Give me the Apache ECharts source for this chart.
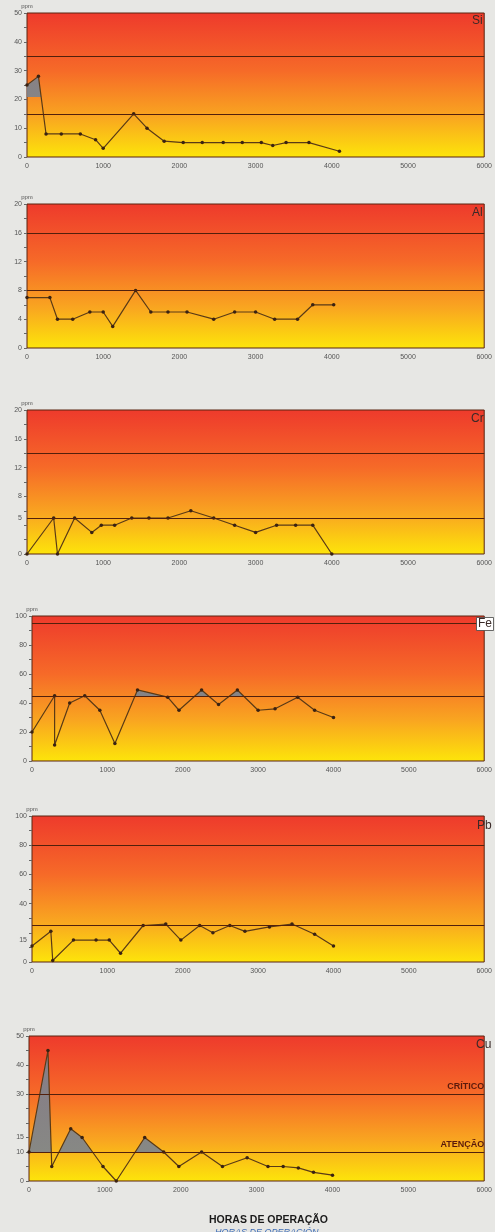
<!DOCTYPE html>
<html>
<head>
<meta charset="utf-8">
<script src="https://cdn.jsdelivr.net/npm/echarts@6/dist/echarts.min.js"></script>
<style>
  html, body { margin: 0; padding: 0; background: #e7e7e4; }
  #chart { width: 495px; height: 1232px; }
</style>
</head>
<body>
<div id="chart"></div>
<script>
// Si
var siHours  = [0, 150, 250, 450, 700, 900, 1000, 1400, 1575, 1800, 2050, 2300, 2575, 2825, 3075, 3225, 3400, 3700, 4100];
var siPpm    = [25, 28, 8, 8, 8, 6, 3, 15, 10, 5.5, 5, 5, 5, 5, 5, 4, 5, 5, 2];
var siTicks  = [0, 10, 20, 30, 40, 50];
var siLimits = [35, 15];

// Al
var alHours  = [0, 300, 400, 600, 825, 1000, 1125, 1425, 1625, 1850, 2100, 2450, 2725, 3000, 3250, 3550, 3750, 4025];
var alPpm    = [7, 7, 4, 4, 5, 5, 3, 8, 5, 5, 5, 4, 5, 5, 4, 4, 6, 6];
var alTicks  = [0, 4, 8, 12, 16, 20];
var alLimits = [16, 8];

// Cr
var crHours  = [0, 350, 400, 625, 850, 975, 1150, 1375, 1600, 1850, 2150, 2450, 2725, 3000, 3275, 3525, 3750, 4000];
var crPpm    = [0, 5, 0, 5, 3, 4, 4, 5, 5, 5, 6, 5, 4, 3, 4, 4, 4, 0];
var crTicks  = [0, 5, 8, 12, 16, 20];
var crLimits = [14, 5];

// Fe
var feHours  = [0, 300, 300, 500, 700, 900, 1100, 1400, 1800, 1950, 2250, 2475, 2725, 3000, 3225, 3525, 3750, 4000];
var fePpm    = [20, 45, 11, 40, 45, 35, 12, 49, 44, 35, 49, 39, 49, 35, 36, 44, 35, 30];
var feTicks  = [0, 20, 40, 60, 80, 100];
var feLimits = [95, 45];

// Pb
var pbHours  = [0, 250, 275, 550, 850, 1025, 1175, 1475, 1775, 1975, 2225, 2400, 2625, 2825, 3150, 3450, 3750, 4000];
var pbPpm    = [11, 21, 1, 15, 15, 15, 6, 25, 26, 15, 25, 20, 25, 21, 24, 26, 19, 11];
var pbTicks  = [0, 15, 40, 60, 80, 100];
var pbLimits = [80, 25];

// Cu
var cuHours  = [0, 250, 300, 550, 700, 975, 1150, 1525, 1775, 1975, 2275, 2550, 2875, 3150, 3350, 3550, 3750, 4000];
var cuPpm    = [10, 45, 5, 18, 15, 5, 0, 15, 10, 5, 10, 5, 8, 5, 5, 4.5, 3, 2];
var cuTicks  = [0, 10, 15, 30, 40, 50];
var cuLimits = [30, 10];
var cuLimitNames = ['CRÍTICO', 'ATENÇÃO'];

var xTitle = 'HORAS DE OPERAÇÃO';
var xTitleEs = 'HORAS DE OPERACIÓN';

var panels = [
  { name: 'Si', hours: siHours, ppm: siPpm, ticks: siTicks, limits: siLimits, max: 50, step: 5, fillFrom: 21,
    grid: { left: 27, top: 13, width: 463, height: 144 }, label: { left: 472, top: 15 } },
  { name: 'Al', hours: alHours, ppm: alPpm, ticks: alTicks, limits: alLimits, max: 20, step: 2,
    grid: { left: 27, top: 204, width: 463, height: 144 }, label: { left: 472, top: 207 } },
  { name: 'Cr', hours: crHours, ppm: crPpm, ticks: crTicks, limits: crLimits, max: 20, step: 2,
    grid: { left: 27, top: 410, width: 463, height: 144 }, label: { left: 471, top: 413 } },
  { name: 'Fe', hours: feHours, ppm: fePpm, ticks: feTicks, limits: feLimits, max: 100, step: 10, fillFrom: 45,
    grid: { left: 32, top: 616, width: 463, height: 145 }, label: { left: 476, top: 617 }, boxed: true },
  { name: 'Pb', hours: pbHours, ppm: pbPpm, ticks: pbTicks, limits: pbLimits, max: 100, step: 10,
    grid: { left: 32, top: 816, width: 463, height: 146 }, label: { left: 477, top: 820 } },
  { name: 'Cu', hours: cuHours, ppm: cuPpm, ticks: cuTicks, limits: cuLimits, max: 50, step: 5, fillFrom: 10,
    grid: { left: 29, top: 1036, width: 462, height: 145 }, label: { left: 476, top: 1039 }, limitNames: cuLimitNames }
];

// fundo vermelho -> amarelo dos graficos
function plotBg() {
  return new echarts.graphic.LinearGradient(0, 0, 0, 1, [
    { offset: 0, color: '#ee3a2c' },
    { offset: 0.4, color: '#f66a28' },
    { offset: 0.72, color: '#f9a620' },
    { offset: 1, color: '#fde50a' }
  ]);
}

var option = {
  backgroundColor: '#e7e7e4',
  animation: false,
  textStyle: { fontFamily: 'Liberation Sans' },
  grid: [], xAxis: [], yAxis: [], series: [], visualMap: [], title: []
};

panels.forEach(function (p, i) {
  option.grid.push(Object.assign({
    show: true, backgroundColor: plotBg(), borderColor: '#5a2410', borderWidth: 1
  }, p.grid));

  option.xAxis.push({
    type: 'value', gridIndex: i, min: 0, max: 6000, interval: 1000,
    axisLine: { show: false }, axisTick: { show: false }, splitLine: { show: false },
    axisLabel: {
      fontSize: 7, color: '#555', margin: 6, showMaxLabel: true,
      formatter: function (v) { return String(v); }
    }
  });

  option.yAxis.push({
    type: 'value', gridIndex: i, min: 0, max: p.max, interval: p.step,
    name: 'ppm', nameLocation: 'end', nameGap: 4,
    nameTextStyle: { fontSize: 6, color: '#555', align: 'center' },
    axisLine: { show: false }, splitLine: { show: false },
    axisTick: { show: true, length: 3, lineStyle: { color: '#666' } },
    axisLabel: { customValues: p.ticks, fontSize: 7, color: '#555', margin: 5 }
  });

  var pts = p.hours.map(function (h, k) { return [h, p.ppm[k]]; });

  // area cinza acima do limite
  if (p.fillFrom != null) {
    option.series.push({
      type: 'line', xAxisIndex: i, yAxisIndex: i, data: pts, silent: true,
      showSymbol: false, lineStyle: { width: 0 }, areaStyle: { opacity: 0.9 }, z: 2
    });
    option.visualMap.push({
      type: 'piecewise', show: false, dimension: 1, seriesIndex: option.series.length - 1,
      pieces: [
        { lt: p.fillFrom, color: 'rgba(0,0,0,0)' },
        { gte: p.fillFrom, lte: p.max, color: '#7a8390' },
        { gt: p.max, color: '#7a8390' }
      ]
    });
  }

  option.series.push({
    type: 'line', xAxisIndex: i, yAxisIndex: i, data: pts, z: 3,
    symbol: 'circle', symbolSize: 3.5,
    itemStyle: { color: '#3a2212' },
    lineStyle: { color: '#5a3a16', width: 1.2 },
    markLine: {
      silent: true, symbol: 'none', animation: false,
      lineStyle: { color: '#52200c', width: 1.2, type: 'solid' },
      label: { show: false },
      data: p.limits.map(function (v, k) {
        var d = { yAxis: v };
        if (p.limitNames) {
          d.name = p.limitNames[k];
          d.label = {
            show: true, formatter: '{b}', position: 'insideEndTop', distance: [0, 3],
            fontSize: 9, fontWeight: 'bold', color: '#5a1a0c', fontFamily: 'Liberation Sans'
          };
        }
        return d;
      })
    }
  });

  option.title.push({
    text: p.name, left: p.label.left, top: p.label.top, padding: p.boxed ? [1, 2] : 0,
    backgroundColor: p.boxed ? '#ffffff' : 'transparent',
    borderColor: p.boxed ? '#444' : 'transparent', borderWidth: p.boxed ? 0.8 : 0,
    textStyle: { fontSize: 12, fontWeight: 'normal', color: '#3a2a28', fontFamily: 'Liberation Sans' }
  });
});

option.title.push({
  text: xTitle, left: 204, top: 1210,
  textStyle: { fontSize: 10.5, fontWeight: 'bold', color: '#1a1a1a', fontFamily: 'Liberation Sans' }
});
option.title.push({
  text: xTitleEs, left: 210, top: 1223,
  textStyle: { fontSize: 9, fontStyle: 'italic', fontWeight: 'normal', color: '#3d6cb5', fontFamily: 'Liberation Sans' }
});

echarts.init(document.getElementById('chart')).setOption(option);
</script>
</body>
</html>
